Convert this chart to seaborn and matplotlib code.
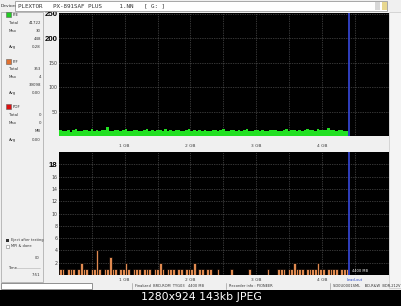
import numpy as np
import pandas as pd
import matplotlib
matplotlib.use("Agg")
import matplotlib.pyplot as plt
from matplotlib.patches import Rectangle
import seaborn as sns

sns.set_style("dark")
plt.rcParams['font.family'] = ['DejaVu Sans']

# ---------------- data ----------------
step = 0.04
green_vals = [12, 10, 11, 13, 9, 12, 14, 11, 10, 12, 13, 11, 15, 10, 12, 11, 13, 12, 19, 11,
              10, 12, 13, 11, 12, 14, 10, 11, 12, 13, 11, 10, 12, 15, 11, 12, 10, 13, 12, 11,
              14, 10, 12, 11, 13, 12, 10, 11, 12, 14, 11, 12, 10, 13, 11, 12, 11, 10, 12, 13,
              11, 12, 14, 10, 11, 12, 13, 10, 12, 11, 12, 14, 11, 10, 12, 13, 11, 12, 10, 11,
              12, 13, 12, 11, 10, 12, 14, 11, 12, 13, 11, 12, 10, 12, 15, 13, 12, 11, 14, 12,
              13, 12, 16, 13, 12, 11, 13, 12, 11, 10]
orange_vals = [1, 1, 0, 1, 1, 1, 0, 1, 2, 1, 1, 0, 1, 1, 4, 1, 0, 1, 1, 3, 1, 1, 0, 1, 1, 2, 1, 0, 1, 1,
               1, 0, 1, 1, 1, 0, 1, 1, 2, 1, 0, 1, 1, 1, 0, 1, 1, 0, 1, 1, 1, 2, 0, 1, 1, 0, 1, 1,
               0, 0, 1, 0, 0, 0, 0, 1, 0, 0, 0, 0, 0, 0, 1, 0, 0, 0, 0, 0, 0, 1, 0, 0, 0,
               1, 1, 1, 0, 1, 1, 2, 1, 1, 1, 0, 1, 1, 1, 1, 2, 1, 1, 0, 1, 1, 1, 1, 0, 1, 1, 1]
top_yticks = [50, 100, 150, 200, 250]
bot_yticks = [2, 4, 6, 8, 10, 12, 14, 16, 18]
x_ticks = [1, 2, 3, 4]
x_ticklabels = ["1 GB", "2 GB", "3 GB", "4 GB"]
leadout_gb = 4.41

green_df = pd.DataFrame({"pos": np.arange(len(green_vals)) * step + step / 2,
                         "val": np.asarray(green_vals, dtype=float)})
orange_df = pd.DataFrame({"pos": np.arange(len(orange_vals)) * step + step / 2,
                          "val": np.asarray(orange_vals, dtype=float)})

# ---------------- figure ----------------
W, H = 402, 306
fig = plt.figure(figsize=(W / 100, H / 100), dpi=100, facecolor="#f0f0f0")


def px(x0, y0, w, h):
    return [x0 / W, 1 - (y0 + h) / H, w / W, h / H]


def rect(x0, y0, w, h, fc, ec="none", lw=0.6):
    fig.patches.append(Rectangle((x0 / W, 1 - (y0 + h) / H), w / W, h / H,
                                 transform=fig.transFigure, facecolor=fc,
                                 edgecolor=ec, linewidth=lw, zorder=0))


def ftext(x, y, s, **kw):
    fig.text(x / W, 1 - y / H, s, **kw)


def vline(x, y0, y1, color="#a0a0a0", lw=0.5):
    fig.lines.append(plt.Line2D([x / W] * 2, [1 - y1 / H, 1 - y0 / H],
                                transform=fig.transFigure, color=color, lw=lw))


# title bar
rect(15, 1, 372, 10, "white", "#9a9a9a")
ftext(1, 6, "Device:", fontsize=3.2, va="center", color="#222222")
ftext(18, 6, "PLEXTOR   PX-891SAF PLUS     1.NN   [ G: ]", fontsize=4.2, va="center",
      color="#333333", family="DejaVu Sans Mono")
rect(375, 2, 5, 8, "#d8d8d8")
rect(382, 2, 5, 8, "#e8d890")

# left panel
rect(0.5, 12, 42.5, 270, "#f0f0f0", "#b0b0b0")
rect(389, 12, 13, 276, "#f4f4f4", "#d0d0d0")


def stat_block(y0, color, name, rows):
    rect(6, y0 - 3, 5, 5, color, "#606060", 0.4)
    ftext(13, y0, name, fontsize=2.8, va="center", color="#222222")
    for (yy, lab, val) in rows:
        if lab:
            ftext(9, yy, lab, fontsize=2.8, va="center", color="#333333")
        ftext(41, yy, val, fontsize=2.8, va="center", ha="right", color="#333333")


stat_block(15, "#22cc22", "PIE", [(23, "Total", "41722"), (31, "Max", "30"),
                                  (39, "", "448"), (47, "Avg", "0.28")])
stat_block(62, "#e07030", "PIF", [(69, "Total", "353"), (77, "Max", "4"),
                                  (85, "", "39098"), (93, "Avg", "0.00")])
stat_block(107, "#dd1111", "POF", [(115, "Total", "0"), (123, "Max", "0"),
                                   (131, "", "MB"), (140, "Avg", "0.00")])
rect(6, 239, 3, 3, "#303030")
ftext(11, 240, "Eject after testing", fontsize=2.6, va="center", color="#333333")
rect(6, 245, 3, 3, "white", "#808080", 0.4)
ftext(11, 246, "MPI & done", fontsize=2.6, va="center", color="#333333")
ftext(40, 258, "00", fontsize=2.6, va="center", ha="right", color="#333333")
ftext(8, 268, "Time", fontsize=2.6, va="center", color="#333333")
fig.lines.append(plt.Line2D([16 / W, 40 / W], [1 - 268 / H] * 2, transform=fig.transFigure,
                            color="#b0b0b0", lw=0.4))
ftext(40, 275, "7:51", fontsize=2.8, va="center", ha="right", color="#333333")

# status bar
rect(1, 283, 91, 6, "white", "#808080")
vline(132, 283, 289)
vline(226, 283, 289)
vline(330, 283, 289)
ftext(135, 286, "Finalized  BRD-ROM  TYG03   4400 MB", fontsize=2.6, va="center", color="#333333")
ftext(229, 286, "Recorder info : PIONEER", fontsize=2.6, va="center", color="#333333")
ftext(333, 286, "SD0U0001SML    BD-R&W  BDR-212V", fontsize=2.6, va="center", color="#333333")

# black strip
rect(0, 289.5, 402, 17, "black")
ftext(201, 297.5, "1280x924 143kb JPEG", fontsize=7.8, va="center", ha="center", color="white")


def style_axes(ax, ylim, yticks, bold, xpad):
    ax.set_facecolor("black")
    ax.set_xlim(0, 5.02)
    ax.set_ylim(*ylim)
    ax.set_yticks(yticks)
    xt = list(np.arange(0.5, 5.0, 0.5))
    ax.set_xticks(xt)
    ax.grid(True, color="#6a6a6a", linestyle=(0, (1, 1.5)), linewidth=0.5)
    for s in ax.spines.values():
        s.set_visible(False)
    ax.set_xlabel("")
    ax.set_ylabel("")
    ax.set_yticklabels([str(t) for t in yticks])
    for t, lab in zip(yticks, ax.get_yticklabels()):
        if t in bold:
            lab.set_fontsize(5.6)
            lab.set_fontweight("bold")
            lab.set_fontfamily("Liberation Sans")
            lab.set_color("black")
        else:
            lab.set_fontsize(3.4)
            lab.set_color("#404040")
    ax.tick_params(axis="y", length=0, pad=1.0)
    ax.tick_params(axis="x", length=0, pad=xpad)
    labs = []
    for v in xt:
        if abs(v - round(v)) < 1e-6 and int(round(v)) in x_ticks:
            labs.append(x_ticklabels[x_ticks.index(int(round(v)))])
        else:
            labs.append("")
    ax.set_xticklabels(labs, fontsize=3.2, color="#404040")
    ax.axvline(leadout_gb, color="#3344cc", lw=1.3, zorder=5)


# top plot
ax1 = fig.add_axes(px(59, 13, 330, 123))
sns.histplot(data=green_df, x="pos", weights="val", binwidth=step, binrange=(0, 4.4), ax=ax1,
             color="#22e022", alpha=1, linewidth=0, element="bars")
style_axes(ax1, (0, 252), top_yticks, [200, 250], 5.5)

# bottom plot
ax2 = fig.add_axes(px(59, 152, 330, 123))
sns.histplot(data=orange_df, x="pos", weights="val", binwidth=step, binrange=(0, 4.4), ax=ax2,
             color="#e08a50", alpha=1, edgecolor="black", linewidth=0.5, element="bars")
style_axes(ax2, (0, 20), bot_yticks, [18], 2.0)
ax2.text(4.45, 0.35, "4400 MB", fontsize=2.6, color="white", va="bottom")
ftext(355, 280, "Lead-out", fontsize=2.6, color="#2244cc", va="center", ha="center")

fig.savefig("out.png", dpi=100, facecolor=fig.get_facecolor())
